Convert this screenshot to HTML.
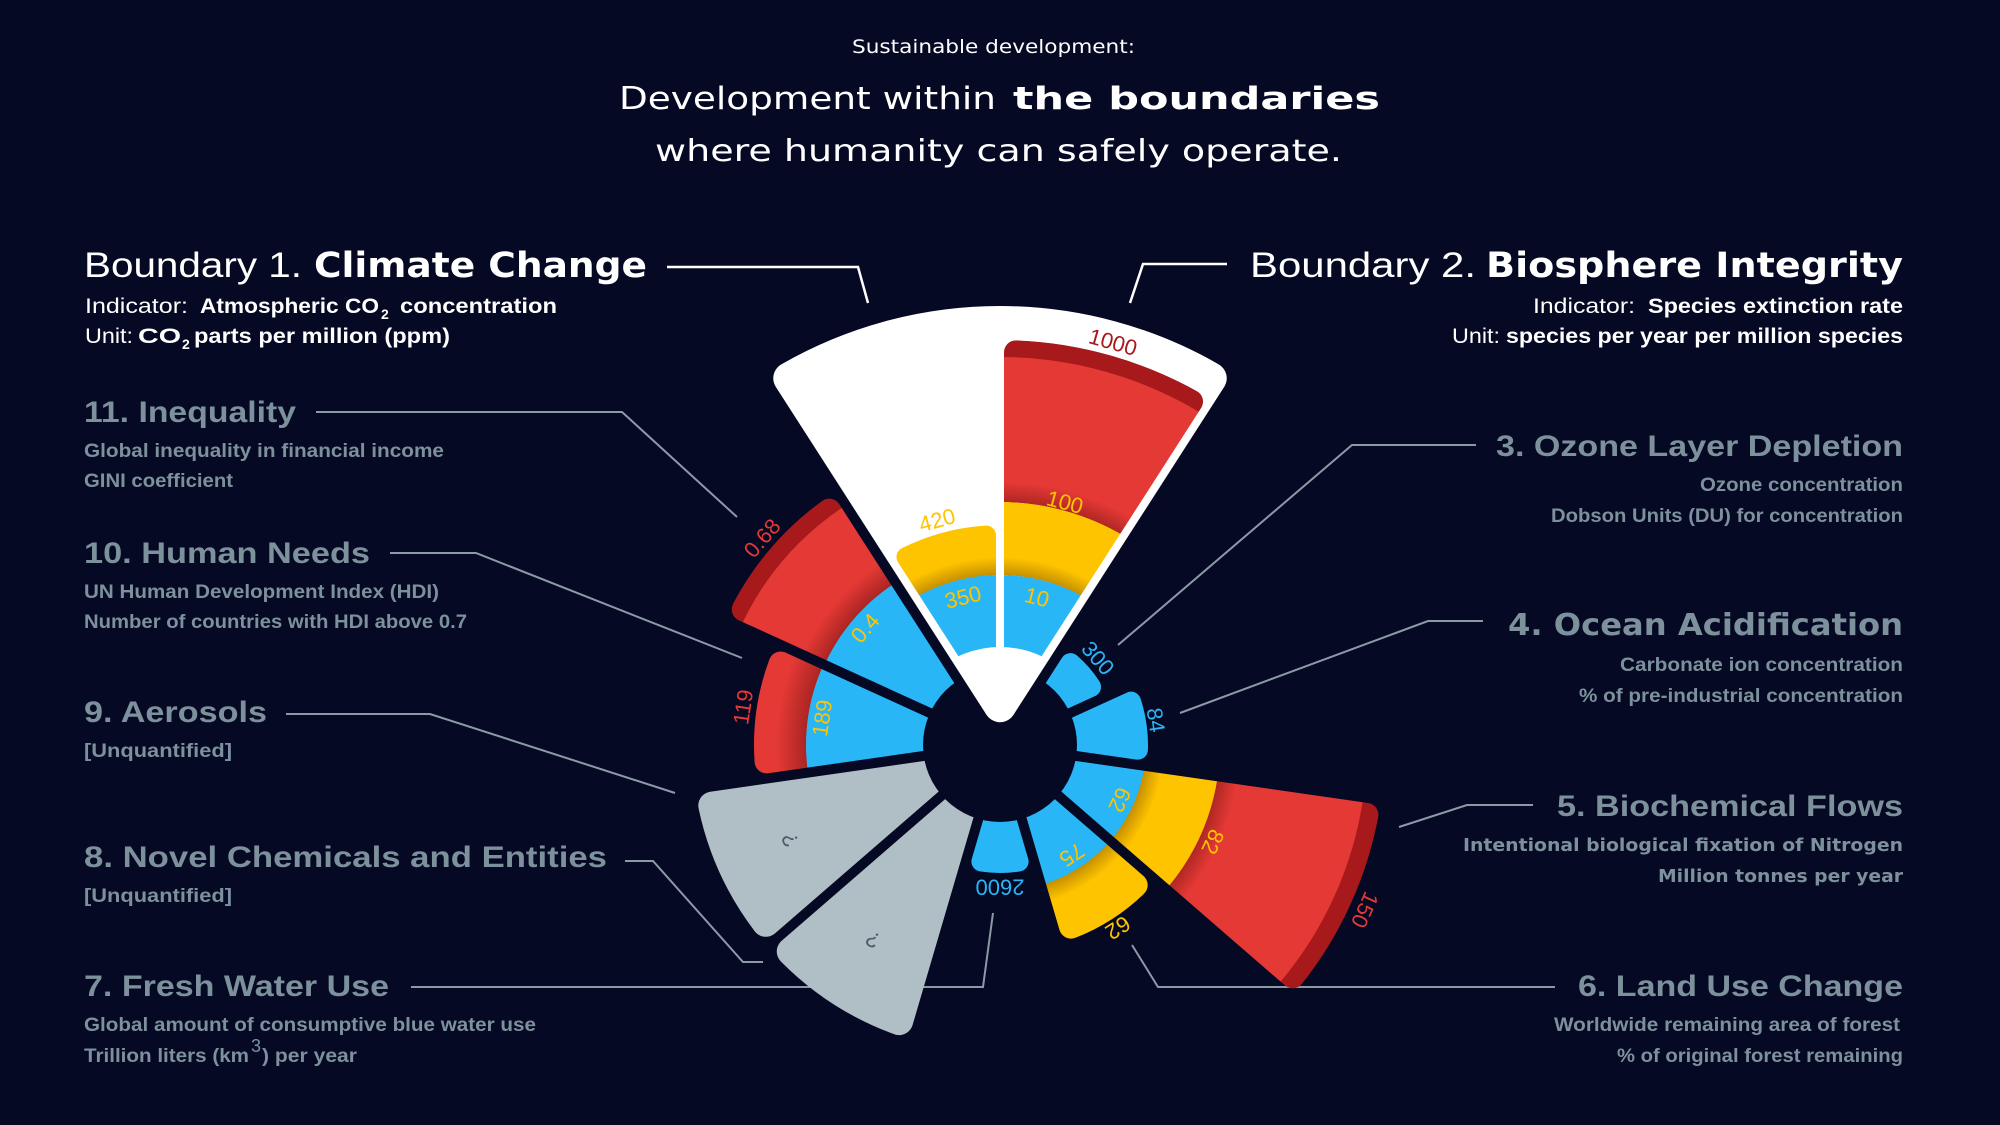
<!DOCTYPE html>
<html>
<head>
<meta charset="utf-8">
<style>
html,body{margin:0;padding:0;background:#050923;}
svg{display:block;}
text{font-family:"Liberation Sans",Arial,sans-serif;}
.dj{font-family:"DejaVu Sans","Liberation Sans",sans-serif;}
.g{fill:#7d919c;font-weight:bold;}
.w{fill:#ffffff;}
.lb{font-size:22px;text-anchor:middle;}
</style>
</head>
<body>
<svg width="2000" height="1125" viewBox="0 0 2000 1125" xmlns="http://www.w3.org/2000/svg">
<defs>
  <radialGradient id="g146" gradientUnits="userSpaceOnUse" cx="1000" cy="745" r="164">
    <stop offset="0" stop-color="#000" stop-opacity="0"/>
    <stop offset="0.8895" stop-color="#000" stop-opacity="0"/>
    <stop offset="0.8902" stop-color="#5a3000" stop-opacity="0.35"/>
    <stop offset="1" stop-color="#5a3000" stop-opacity="0"/>
  </radialGradient>
  <radialGradient id="g170" gradientUnits="userSpaceOnUse" cx="1000" cy="745" r="188">
    <stop offset="0" stop-color="#000" stop-opacity="0"/>
    <stop offset="0.9037" stop-color="#000" stop-opacity="0"/>
    <stop offset="0.9043" stop-color="#5a3000" stop-opacity="0.35"/>
    <stop offset="1" stop-color="#5a3000" stop-opacity="0"/>
  </radialGradient>
  <radialGradient id="g193" gradientUnits="userSpaceOnUse" cx="1000" cy="745" r="218">
    <stop offset="0" stop-color="#000" stop-opacity="0"/>
    <stop offset="0.8850" stop-color="#000" stop-opacity="0"/>
    <stop offset="0.8856" stop-color="#400000" stop-opacity="0.35"/>
    <stop offset="1" stop-color="#400000" stop-opacity="0"/>
  </radialGradient>
  <radialGradient id="g194" gradientUnits="userSpaceOnUse" cx="1000" cy="745" r="224">
    <stop offset="0" stop-color="#000" stop-opacity="0"/>
    <stop offset="0.8658" stop-color="#000" stop-opacity="0"/>
    <stop offset="0.8664" stop-color="#400000" stop-opacity="0.35"/>
    <stop offset="1" stop-color="#400000" stop-opacity="0"/>
  </radialGradient>
  <radialGradient id="g220" gradientUnits="userSpaceOnUse" cx="1000" cy="745" r="240">
    <stop offset="0" stop-color="#000" stop-opacity="0"/>
    <stop offset="0.9163" stop-color="#000" stop-opacity="0"/>
    <stop offset="0.9169" stop-color="#400000" stop-opacity="0.32"/>
    <stop offset="1" stop-color="#400000" stop-opacity="0"/>
  </radialGradient>
  <radialGradient id="g243" gradientUnits="userSpaceOnUse" cx="1000" cy="745" r="263">
    <stop offset="0" stop-color="#000" stop-opacity="0"/>
    <stop offset="0.9236" stop-color="#000" stop-opacity="0"/>
    <stop offset="0.9241" stop-color="#400000" stop-opacity="0.32"/>
    <stop offset="1" stop-color="#400000" stop-opacity="0"/>
  </radialGradient>

  <mask id="mBc" maskUnits="userSpaceOnUse" x="0" y="0" width="2000" height="1125">
    <path d="M1054.89 770.07 L1366.40 814.85 A373 373 0 0 1 1292.68 976.23 Z" fill="#fff" stroke="#fff" stroke-width="24" stroke-linejoin="round"/>
  </mask>
  <mask id="mLu" maskUnits="userSpaceOnUse" x="0" y="0" width="2000" height="1125">
    <path d="M1032.62 795.76 L1135.67 885.06 A195 195 0 0 1 1071.03 926.60 Z" fill="#fff" stroke="#fff" stroke-width="24" stroke-linejoin="round"/>
  </mask>
  <mask id="mHn" maskUnits="userSpaceOnUse" x="0" y="0" width="2000" height="1125">
    <path d="M940.27 736.41 L766.57 761.39 A234 234 0 0 1 780.65 663.51 Z" fill="#fff" stroke="#fff" stroke-width="24" stroke-linejoin="round"/>
  </mask>
  <mask id="mIq" maskUnits="userSpaceOnUse" x="0" y="0" width="2000" height="1125">
    <path d="M954.40 705.49 L743.70 609.30 A290 290 0 0 1 829.18 510.65 Z" fill="#fff" stroke="#fff" stroke-width="24" stroke-linejoin="round"/>
  </mask>
  <mask id="mCl" maskUnits="userSpaceOnUse" x="0" y="0" width="2000" height="1125">
    <path d="M975.11 663.73 L906.50 556.96 A210 210 0 0 1 986.00 535.47 L986.00 661.16 Z" fill="#fff" stroke="#fff" stroke-width="20" stroke-linejoin="round"/>
  </mask>
  <mask id="mBi" maskUnits="userSpaceOnUse" x="0" y="0" width="2000" height="1125">
    <path d="M1016.0 661.52 L1016.0 352.33 A393 393 0 0 1 1191.02 401.55 L1022.89 663.14 Z" fill="#fff" stroke="#fff" stroke-width="24" stroke-linejoin="round"/>
  </mask>
</defs>

<rect width="2000" height="1125" fill="#050923"/>

<!-- Title -->
<text class="dj w" x="852" y="53" font-size="19" textLength="283" lengthAdjust="spacingAndGlyphs">Sustainable development:</text>
<text class="dj w" x="619" y="109" font-size="31" textLength="377" lengthAdjust="spacingAndGlyphs">Development within</text>
<text class="dj w" x="1013" y="109" font-size="31" font-weight="bold" textLength="367" lengthAdjust="spacingAndGlyphs">the boundaries</text>
<text class="dj w" x="655" y="161" font-size="30" textLength="687" lengthAdjust="spacingAndGlyphs">where humanity can safely operate.</text>

<!-- Leader lines -->
<g stroke="#8a9ba6" stroke-width="2" fill="none">
  <polyline points="316,412 622,412 737,517"/>
  <polyline points="390,553 476,553 742,658"/>
  <polyline points="286,714 430,714 675,793"/>
  <polyline points="625,861 653,861 743,962 763,962"/>
  <polyline points="411,987 983,987 993,913"/>
  <polyline points="1476,445 1352,445 1118,645"/>
  <polyline points="1483,621 1428,621 1180,713"/>
  <polyline points="1533,805 1467,805 1399,827"/>
  <polyline points="1555,987 1158,987 1132,945"/>
</g>
<g stroke="#ffffff" stroke-width="2.5" fill="none">
  <polyline points="667,267 858,267 868,303"/>
  <polyline points="1227,264 1143,264 1130,303"/>
</g>

<!-- Single-colour segments -->
<path d="M1040.24 710.13 L1070.44 663.13 A108 108 0 0 1 1091.06 686.93 Z" fill="#29b6f6" stroke="#29b6f6" stroke-width="20" stroke-linejoin="round"/>
<path d="M1052.70 737.42 L1131.02 701.66 A138 138 0 0 1 1137.92 749.68 Z" fill="#29b6f6" stroke="#29b6f6" stroke-width="20" stroke-linejoin="round"/>
<path d="M1000 798.24 L1018.59 861.53 A118 118 0 0 1 981.41 861.53 Z" fill="#29b6f6" stroke="#29b6f6" stroke-width="20" stroke-linejoin="round"/>
<path d="M963.54 801.73 L899.13 1021.15 A294 294 0 0 1 790.72 951.49 Z" fill="#b0bec5" stroke="#b0bec5" stroke-width="28" stroke-linejoin="round"/>
<path d="M938.65 773.02 L765.86 922.81 A294 294 0 0 1 712.30 805.56 Z" fill="#b0bec5" stroke="#b0bec5" stroke-width="28" stroke-linejoin="round"/>

<!-- Biochemical flows -->
<g mask="url(#mBc)">
  <circle cx="1000" cy="745" r="386" fill="#a8191c"/>
  <circle cx="1000" cy="745" r="367" fill="#e53935"/>
  <circle cx="1000" cy="745" r="220" fill="#ffc400"/>
  <circle cx="1000" cy="745" r="146" fill="#29b6f6"/>
  <circle cx="1000" cy="745" r="164" fill="url(#g146)"/>
  <circle cx="1000" cy="745" r="240" fill="url(#g220)"/>
</g>
<!-- Land use -->
<g mask="url(#mLu)">
  <circle cx="1000" cy="745" r="208" fill="#ffc400"/>
  <circle cx="1000" cy="745" r="146" fill="#29b6f6"/>
  <circle cx="1000" cy="745" r="164" fill="url(#g146)"/>
</g>
<!-- Human needs -->
<g mask="url(#mHn)">
  <circle cx="1000" cy="745" r="251" fill="#e53935"/>
  <circle cx="1000" cy="745" r="194" fill="#29b6f6"/>
  <circle cx="1000" cy="745" r="224" fill="url(#g194)"/>
</g>
<!-- Inequality -->
<g mask="url(#mIq)">
  <circle cx="1000" cy="745" r="303" fill="#a8191c"/>
  <circle cx="1000" cy="745" r="285" fill="#e53935"/>
  <circle cx="1000" cy="745" r="193" fill="#29b6f6"/>
  <circle cx="1000" cy="745" r="218" fill="url(#g193)"/>
</g>

<!-- centre hole -->
<circle cx="1000" cy="745" r="77" fill="#050923"/>

<!-- White wedge (Boundaries 1 & 2) -->
<path d="M1000 706.2 L789.27 378.23 A423 423 0 0 1 1210.73 378.23 Z" fill="#ffffff" stroke="#ffffff" stroke-width="32" stroke-linejoin="round"/>

<!-- Climate -->
<g mask="url(#mCl)">
  <circle cx="1000" cy="745" r="195" fill="none" stroke="#ffc400" stroke-width="50"/>
  <circle cx="1000" cy="745" r="134" fill="none" stroke="#29b6f6" stroke-width="72"/>
  <circle cx="1000" cy="745" r="188" fill="url(#g170)"/>
</g>
<!-- Biosphere -->
<g mask="url(#mBi)">
  <circle cx="1000" cy="745" r="324" fill="none" stroke="#a8191c" stroke-width="162"/>
  <circle cx="1000" cy="745" r="315.5" fill="none" stroke="#e53935" stroke-width="145"/>
  <circle cx="1000" cy="745" r="206.5" fill="none" stroke="#ffc400" stroke-width="73"/>
  <circle cx="1000" cy="745" r="134" fill="none" stroke="#29b6f6" stroke-width="72"/>
  <circle cx="1000" cy="745" r="188" fill="url(#g170)"/>
  <circle cx="1000" cy="745" r="263" fill="url(#g243)"/>
</g>

<!-- Value labels -->
<g class="lb">
  <text class="lb" transform="translate(1113,342) rotate(15.7)" dy="0.35em" fill="#a8191c">1000</text>
  <text class="lb" transform="translate(1065,502) rotate(15)" dy="0.35em" fill="#ffc400">100</text>
  <text class="lb" transform="translate(937,520) rotate(-15.7)" dy="0.35em" fill="#ffc400">420</text>
  <text class="lb" transform="translate(963,597) rotate(-14)" dy="0.35em" fill="#ffc400">350</text>
  <text class="lb" transform="translate(1037,597) rotate(14)" dy="0.35em" fill="#ffc400">10</text>
  <text class="lb" transform="translate(762,538) rotate(-49)" dy="0.35em" fill="#e53935">0.68</text>
  <text class="lb" transform="translate(865,628) rotate(-49)" dy="0.35em" fill="#ffc400">0.4</text>
  <text class="lb" transform="translate(822,718) rotate(-81.5)" dy="0.35em" fill="#ffc400">189</text>
  <text class="lb" transform="translate(743,707) rotate(-81.5)" dy="0.35em" fill="#e53935">119</text>
  <text class="lb" transform="translate(1098,658) rotate(48.6)" dy="0.35em" fill="#29b6f6">300</text>
  <text class="lb" transform="translate(1156,720) rotate(81)" dy="0.35em" fill="#29b6f6">84</text>
  <text class="lb" transform="translate(1120,800) rotate(114.5)" dy="0.35em" fill="#ffc400">62</text>
  <text class="lb" transform="translate(1213,842) rotate(114.5)" dy="0.35em" fill="#ffc400">82</text>
  <text class="lb" transform="translate(1365,910) rotate(114.3)" dy="0.35em" fill="#e53935">150</text>
  <text class="lb" transform="translate(1072,855) rotate(147)" dy="0.35em" fill="#ffc400">75</text>
  <text class="lb" transform="translate(1118,928) rotate(147)" dy="0.35em" fill="#ffc400">62</text>
  <text class="lb" transform="translate(1000,887) rotate(180)" dy="0.35em" fill="#29b6f6">2600</text>
  <text class="lb" transform="translate(873,940) rotate(213)" dy="0.35em" fill="#4a5c66" font-size="20">?</text>
  <text class="lb" transform="translate(790,840) rotate(245.5)" dy="0.35em" fill="#4a5c66" font-size="20">?</text>
</g>

<!-- Left column -->
<text class="w" x="84" y="277" font-size="35" textLength="218" lengthAdjust="spacingAndGlyphs">Boundary 1.</text>
<text class="dj w" x="314" y="277" font-size="35" font-weight="bold" textLength="333" lengthAdjust="spacingAndGlyphs">Climate Change</text>
<text class="w" x="85" y="313" font-size="21" textLength="103" lengthAdjust="spacingAndGlyphs">Indicator:</text>
<text class="w" x="200" y="313" font-size="21" font-weight="bold" textLength="179" lengthAdjust="spacingAndGlyphs">Atmospheric CO</text>
<text class="w" x="381" y="319" font-size="14" font-weight="bold">2</text>
<text class="w" x="400" y="313" font-size="21" font-weight="bold" textLength="157" lengthAdjust="spacingAndGlyphs">concentration</text>
<text class="w" x="85" y="343" font-size="21" textLength="48" lengthAdjust="spacingAndGlyphs">Unit:</text>
<text class="w" x="138" y="343" font-size="21" font-weight="bold" textLength="43" lengthAdjust="spacingAndGlyphs">CO</text>
<text class="w" x="182" y="349" font-size="14" font-weight="bold">2</text>
<text class="w" x="194" y="343" font-size="21" font-weight="bold" textLength="256" lengthAdjust="spacingAndGlyphs">parts per million (ppm)</text>

<text class="g" x="84" y="422" font-size="30" textLength="212" lengthAdjust="spacingAndGlyphs">11. Inequality</text>
<text class="g" x="84" y="457" font-size="19" textLength="360" lengthAdjust="spacingAndGlyphs">Global inequality in financial income</text>
<text class="g" x="84" y="487" font-size="19" textLength="149" lengthAdjust="spacingAndGlyphs">GINI coefficient</text>

<text class="g" x="84" y="563" font-size="30" textLength="286" lengthAdjust="spacingAndGlyphs">10. Human Needs</text>
<text class="g" x="84" y="598" font-size="19" textLength="355" lengthAdjust="spacingAndGlyphs">UN Human Development Index (HDI)</text>
<text class="g" x="84" y="628" font-size="19" textLength="383" lengthAdjust="spacingAndGlyphs">Number of countries with HDI above 0.7</text>

<text class="g" x="84" y="722" font-size="30" textLength="183" lengthAdjust="spacingAndGlyphs">9. Aerosols</text>
<text class="g" x="84" y="757" font-size="19" textLength="148" lengthAdjust="spacingAndGlyphs">[Unquantified]</text>

<text class="g" x="84" y="867" font-size="30" textLength="523" lengthAdjust="spacingAndGlyphs">8. Novel Chemicals and Entities</text>
<text class="g" x="84" y="902" font-size="19" textLength="148" lengthAdjust="spacingAndGlyphs">[Unquantified]</text>

<text class="g" x="84" y="996" font-size="30" textLength="305" lengthAdjust="spacingAndGlyphs">7. Fresh Water Use</text>
<text class="g" x="84" y="1031" font-size="19" textLength="452" lengthAdjust="spacingAndGlyphs">Global amount of consumptive blue water use</text>
<text class="g" x="84" y="1062" font-size="19" textLength="165" lengthAdjust="spacingAndGlyphs">Trillion liters (km</text>
<text x="251" y="1052" font-size="18" fill="#7d919c">3</text>
<text class="g" x="262" y="1062" font-size="19" textLength="95" lengthAdjust="spacingAndGlyphs">) per year</text>

<!-- Right column -->
<text class="w" x="1250" y="277" font-size="35" textLength="226" lengthAdjust="spacingAndGlyphs">Boundary 2.</text>
<text class="dj w" x="1486" y="277" font-size="35" font-weight="bold" textLength="417" lengthAdjust="spacingAndGlyphs">Biosphere Integrity</text>
<text class="w" x="1533" y="313" font-size="21" textLength="102" lengthAdjust="spacingAndGlyphs">Indicator:</text>
<text class="w" x="1648" y="313" font-size="21" font-weight="bold" textLength="255" lengthAdjust="spacingAndGlyphs">Species extinction rate</text>
<text class="w" x="1452" y="343" font-size="21" textLength="48" lengthAdjust="spacingAndGlyphs">Unit:</text>
<text class="w" x="1506" y="343" font-size="21" font-weight="bold" textLength="397" lengthAdjust="spacingAndGlyphs">species per year per million species</text>

<text class="g" x="1496" y="456" font-size="30" textLength="407" lengthAdjust="spacingAndGlyphs">3. Ozone Layer Depletion</text>
<text class="g" x="1700" y="491" font-size="19" textLength="203" lengthAdjust="spacingAndGlyphs">Ozone concentration</text>
<text class="g" x="1551" y="522" font-size="19" textLength="352" lengthAdjust="spacingAndGlyphs">Dobson Units (DU) for concentration</text>

<text class="g dj" x="1508" y="635" font-size="30" textLength="395" lengthAdjust="spacingAndGlyphs">4. Ocean Acidification</text>
<text class="g" x="1620" y="671" font-size="19" textLength="283" lengthAdjust="spacingAndGlyphs">Carbonate ion concentration</text>
<text class="g" x="1579" y="702" font-size="19" textLength="324" lengthAdjust="spacingAndGlyphs">% of pre-industrial concentration</text>

<text class="g" x="1557" y="816" font-size="30" textLength="346" lengthAdjust="spacingAndGlyphs">5. Biochemical Flows</text>
<text class="g dj" x="1463" y="851" font-size="18" textLength="440" lengthAdjust="spacingAndGlyphs">Intentional biological fixation of Nitrogen</text>
<text class="g dj" x="1658" y="882" font-size="18" textLength="245" lengthAdjust="spacingAndGlyphs">Million tonnes per year</text>

<text class="g" x="1578" y="996" font-size="30" textLength="325" lengthAdjust="spacingAndGlyphs">6. Land Use Change</text>
<text class="g" x="1554" y="1031" font-size="19" textLength="346" lengthAdjust="spacingAndGlyphs">Worldwide remaining area of forest</text>
<text class="g" x="1617" y="1062" font-size="19" textLength="286" lengthAdjust="spacingAndGlyphs">% of original forest remaining</text>
</svg>
</body>
</html>
